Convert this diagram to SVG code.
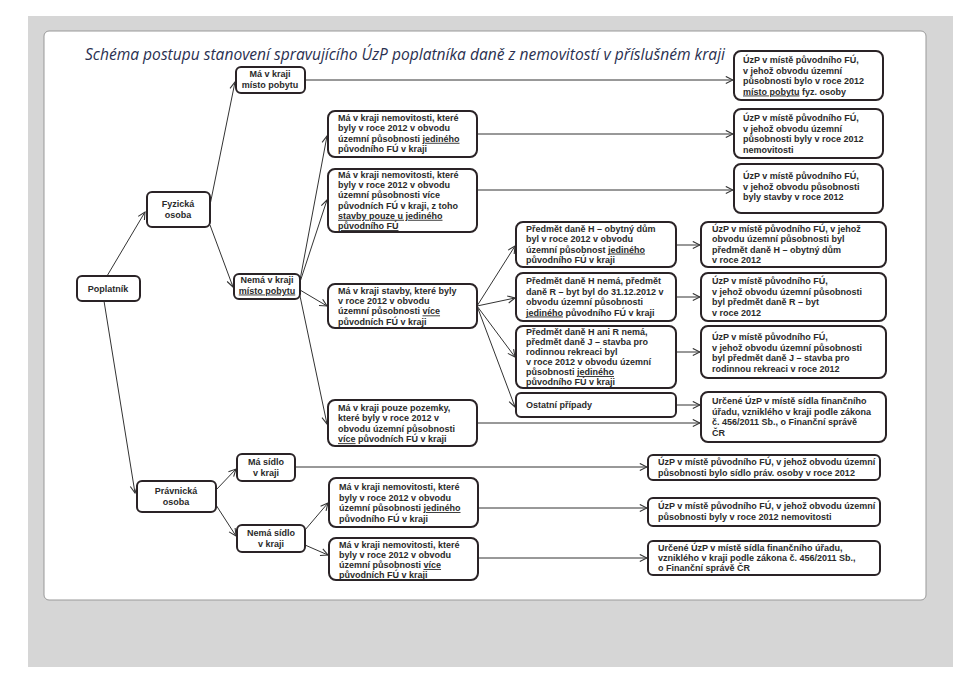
<svg xmlns="http://www.w3.org/2000/svg" width="960" height="696" viewBox="0 0 960 696">
<defs>
<style>
.b{fill:#fff;stroke:#2a2326;stroke-width:2}
.t{font-family:"Liberation Sans",Arial,sans-serif;font-weight:bold;font-size:9px;fill:#2a2a2a}
.c{text-anchor:middle}
.u{text-decoration:underline}
.l{stroke:#333;stroke-width:1;fill:none;marker-end:url(#a)}
</style>
<marker id="a" viewBox="0 0 10 10" refX="9" refY="5" markerWidth="9" markerHeight="9" orient="auto" markerUnits="userSpaceOnUse"><path d="M1,1 L9,5 L1,9" fill="none" stroke="#333" stroke-width="1.2"/></marker>
</defs>
<rect width="960" height="696" fill="#fff"/>
<rect x="28" y="16" width="925" height="651" fill="#d6d6d6"/>
<rect x="44" y="31" width="882" height="569" rx="5" fill="#fff" stroke="#999" stroke-width="1"/>
<text x="85" y="60" font-family="'Open Sans','DejaVu Sans',sans-serif" font-style="italic" font-size="16" textLength="640" lengthAdjust="spacingAndGlyphs" fill="#2a3050">Schéma postupu stanovení spravujícího ÚzP poplatníka daně z nemovitostí v příslušném kraji</text>

<g id="connectors">
<path class="l" d="M107,276 L145,212"/>
<path class="l" d="M104,301 L135,493"/>
<path class="l" d="M210,205 L235,82"/>
<path class="l" d="M210,225 L233,287"/>
<path class="l" d="M305,80 L733,80"/>
<path class="l" d="M300,280 L327,136"/>
<path class="l" d="M300,282 L327,200"/>
<path class="l" d="M300,290 L327,306"/>
<path class="l" d="M300,296 L327,424"/>
<path class="l" d="M477,134 L733,134"/>
<path class="l" d="M477,190 L733,190"/>
<path class="l" d="M477,306 L515,246"/>
<path class="l" d="M477,306 L515,298"/>
<path class="l" d="M477,306 L515,357"/>
<path class="l" d="M477,306 L515,407"/>
<path class="l" d="M676,245 L700,245"/>
<path class="l" d="M676,297 L700,297"/>
<path class="l" d="M676,352 L700,352"/>
<path class="l" d="M676,405 L700,405"/>
<path class="l" d="M477,423 L700,423"/>
<path class="l" d="M216,490 L236,469"/>
<path class="l" d="M216,505 L236,536"/>
<path class="l" d="M295,467 L647,467"/>
<path class="l" d="M305,530 L328,503"/>
<path class="l" d="M305,545 L328,555"/>
<path class="l" d="M478,508 L647,508"/>
<path class="l" d="M478,558 L647,558"/>
</g>

<g id="poplatnik"><rect class="b" x="77" y="276" width="63" height="25" rx="5"/><text class="t c" x="108" y="292">Poplatník</text></g>
<g id="fyzicka"><rect class="b" x="147" y="192" width="63" height="35" rx="5"/><text class="t c" x="178" y="207">Fyzická<tspan x="178" dy="11">osoba</tspan></text></g>
<g id="pravnicka"><rect class="b" x="137" y="481" width="79" height="31" rx="5"/><text class="t c" x="176" y="494">Právnická<tspan x="176" dy="11">osoba</tspan></text></g>
<g id="ma-pobyt"><rect class="b" x="236" y="67" width="69" height="26" rx="5"/><text class="t c" x="270" y="77">Má v kraji<tspan x="270" dy="10.5">místo pobytu</tspan></text></g>
<g id="nema-pobyt"><rect class="b" x="234" y="274" width="66" height="25" rx="5"/><text class="t c" x="267" y="283">Nemá v kraji<tspan x="267" dy="10.5" class="u">místo pobytu</tspan></text></g>
<g id="ma-sidlo"><rect class="b" x="237" y="454" width="58" height="27" rx="5"/><text class="t c" x="266" y="465">Má sídlo<tspan x="266" dy="10.5">v kraji</tspan></text></g>
<g id="nema-sidlo"><rect class="b" x="237" y="525" width="68" height="27" rx="5"/><text class="t c" x="271" y="536">Nemá sídlo<tspan x="271" dy="10.5">v kraji</tspan></text></g>

<g id="f1"><rect class="b" x="328" y="111" width="149" height="46" rx="7"/><text class="t" x="338" y="121">Má v kraji nemovitosti, které<tspan x="338" dy="10.4">byly v roce 2012 v obvodu</tspan><tspan x="338" dy="10.4">územní působnosti <tspan class="u">jediného</tspan></tspan><tspan x="338" dy="10.4">původního FÚ v kraji</tspan></text></g>
<g id="f2"><rect class="b" x="328" y="169" width="149" height="63" rx="7"/><text class="t" x="338" y="178">Má v kraji nemovitosti, které<tspan x="338" dy="10.2">byly v roce 2012 v obvodu</tspan><tspan x="338" dy="10.2">územní působnosti více</tspan><tspan x="338" dy="10.2">původních FÚ v kraji, z toho</tspan><tspan x="338" dy="10.2" class="u">stavby pouze u jediného</tspan><tspan x="338" dy="10.2" class="u">původního FÚ</tspan></text></g>
<g id="f3"><rect class="b" x="328" y="284" width="149" height="44" rx="7"/><text class="t" x="338" y="294">Má v kraji stavby, které byly<tspan x="338" dy="10.2">v roce 2012 v obvodu</tspan><tspan x="338" dy="10.2">územní působnosti <tspan class="u">více</tspan></tspan><tspan x="338" dy="10.2">původních FÚ v kraji</tspan></text></g>
<g id="f4"><rect class="b" x="328" y="400" width="149" height="46" rx="7"/><text class="t" x="338" y="411">Má v kraji pouze pozemky,<tspan x="338" dy="10.4">které byly v roce 2012 v</tspan><tspan x="338" dy="10.4">obvodu územní působnosti</tspan><tspan x="338" dy="10.4"><tspan class="u">více</tspan> původních FÚ v kraji</tspan></text></g>

<g id="h"><rect class="b" x="516" y="222" width="160" height="45" rx="7"/><text class="t" x="526" y="232">Předmět daně H – obytný dům<tspan x="526" dy="10.3">byl v roce 2012 v obvodu</tspan><tspan x="526" dy="10.3">územní působnost <tspan class="u">jediného</tspan></tspan><tspan x="526" dy="10.3">původního FÚ v kraji</tspan></text></g>
<g id="r"><rect class="b" x="516" y="273" width="160" height="48" rx="7"/><text class="t" x="526" y="284">Předmět daně H nemá, předmět<tspan x="526" dy="10.5">daně R – byt byl do 31.12.2012 v</tspan><tspan x="526" dy="10.5">obvodu územní působnosti</tspan><tspan x="526" dy="10.5"><tspan class="u">jediného</tspan> původního FÚ v kraji</tspan></text></g>
<g id="j"><rect class="b" x="516" y="326" width="160" height="62" rx="7"/><text class="t" x="526" y="335">Předmět daně H ani R nemá,<tspan x="526" dy="10">předmět daně J – stavba pro</tspan><tspan x="526" dy="10">rodinnou rekreaci  byl</tspan><tspan x="526" dy="10">v roce 2012 v obvodu územní</tspan><tspan x="526" dy="10">působnosti <tspan class="u">jediného</tspan></tspan><tspan x="526" dy="10">původního FÚ v kraji</tspan></text></g>
<g id="ostatni"><rect class="b" x="516" y="393" width="160" height="24" rx="5"/><text class="t" x="526" y="408">Ostatní případy</text></g>

<g id="u1"><rect class="b" x="734" y="51" width="149" height="49" rx="7"/><text class="t" x="743" y="63">ÚzP v místě původního FÚ,<tspan x="743" dy="10.5">v jehož obvodu územní</tspan><tspan x="743" dy="10.5">působnosti bylo v roce 2012</tspan><tspan x="743" dy="10.5"><tspan class="u">místo pobytu</tspan> fyz. osoby</tspan></text></g>
<g id="u2"><rect class="b" x="734" y="109" width="149" height="49" rx="7"/><text class="t" x="743" y="121">ÚzP v místě původního FÚ,<tspan x="743" dy="10.5">v jehož obvodu územní</tspan><tspan x="743" dy="10.5">působnosti byly v roce 2012</tspan><tspan x="743" dy="10.5">nemovitosti</tspan></text></g>
<g id="u3"><rect class="b" x="734" y="164" width="149" height="49" rx="7"/><text class="t" x="743" y="179">ÚzP v místě původního FÚ,<tspan x="743" dy="10.5">v jehož obvodu působnosti</tspan><tspan x="743" dy="10.5">byly stavby v roce 2012</tspan></text></g>
<g id="uh"><rect class="b" x="701" y="222" width="185" height="45" rx="7"/><text class="t" x="712" y="232">ÚzP v místě původního FÚ, v jehož<tspan x="712" dy="10.3">obvodu územní působnosti byl</tspan><tspan x="712" dy="10.3">předmět daně H – obytný dům</tspan><tspan x="712" dy="10.3">v roce 2012</tspan></text></g>
<g id="ur"><rect class="b" x="701" y="273" width="185" height="48" rx="7"/><text class="t" x="712" y="284">ÚzP v místě původního FÚ,<tspan x="712" dy="10.5">v jehož obvodu územní působnosti</tspan><tspan x="712" dy="10.5">byl předmět daně R – byt</tspan><tspan x="712" dy="10.5">v roce 2012</tspan></text></g>
<g id="uj"><rect class="b" x="701" y="326" width="185" height="52" rx="7"/><text class="t" x="712" y="340">ÚzP v místě původního FÚ,<tspan x="712" dy="10.5">v jehož obvodu územní působnosti</tspan><tspan x="712" dy="10.5">byl předmět daně J – stavba pro</tspan><tspan x="712" dy="10.5">rodinnou rekreaci v roce 2012</tspan></text></g>
<g id="uo"><rect class="b" x="701" y="392" width="185" height="50" rx="7"/><text class="t" x="712" y="404">Určené ÚzP v místě sídla finančního<tspan x="712" dy="10.5">úřadu, vzniklého v kraji podle zákona</tspan><tspan x="712" dy="10.5">č. 456/2011 Sb., o Finanční správě</tspan><tspan x="712" dy="10.5">ČR</tspan></text></g>

<g id="p1"><rect class="b" x="329" y="478" width="149" height="49" rx="7"/><text class="t" x="339" y="490">Má v kraji nemovitosti, které<tspan x="339" dy="10.5">byly v roce 2012 v obvodu</tspan><tspan x="339" dy="10.5">územní působnosti <tspan class="u">jediného</tspan></tspan><tspan x="339" dy="10.5">původního FÚ v kraji</tspan></text></g>
<g id="p2"><rect class="b" x="329" y="538" width="149" height="42" rx="7"/><text class="t" x="339" y="548">Má v kraji nemovitosti, které<tspan x="339" dy="10">byly v roce 2012 v obvodu</tspan><tspan x="339" dy="10">územní působnosti <tspan class="u">více</tspan></tspan><tspan x="339" dy="10" class="u">původních FÚ v kraji</tspan></text></g>
<g id="up1"><rect class="b" x="648" y="455" width="232" height="25" rx="5"/><text class="t" x="658" y="465">ÚzP v místě původního FÚ, v jehož obvodu územní<tspan x="658" dy="10.5">působnosti bylo sídlo práv. osoby v roce 2012</tspan></text></g>
<g id="up2"><rect class="b" x="648" y="498" width="232" height="28" rx="5"/><text class="t" x="658" y="509">ÚzP v místě původního FÚ, v jehož obvodu územní<tspan x="658" dy="10.5">působnosti byly v roce 2012 nemovitosti</tspan></text></g>
<g id="up3"><rect class="b" x="648" y="541" width="232" height="34" rx="5"/><text class="t" x="658" y="551">Určené ÚzP v místě sídla finančního úřadu,<tspan x="658" dy="10">vzniklého v kraji podle zákona č. 456/2011 Sb.,</tspan><tspan x="658" dy="10">o Finanční správě ČR</tspan></text></g>
</svg>
